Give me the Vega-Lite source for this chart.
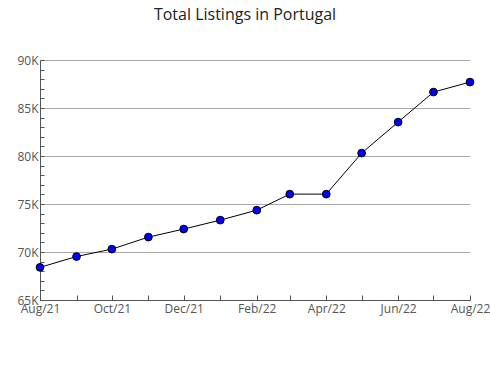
{
  "$schema": "https://vega.github.io/schema/vega-lite/v6.json",
  "width": 430,
  "height": 240,
  "autosize": {"type": "none"},
  "padding": {"left": 40, "top": 60, "right": 20, "bottom": 80},
  "background": "white",
  "title": {
    "text": "Total Listings in Portugal",
    "font": "Open Sans",
    "fontSize": 16,
    "fontWeight": "normal",
    "color": "#222222",
    "anchor": "middle",
    "dx": -10,
    "offset": 31
  },
  "config": {
    "view": {"stroke": null},
    "axis": {
      "labelFont": "Open Sans",
      "labelFontSize": 12,
      "labelColor": "#555555",
      "domainColor": "#555555",
      "tickColor": "#555555",
      "titleFont": "Open Sans"
    }
  },
  "data": {
    "values": [
      {"month": "2021-08-01", "listings": 68400},
      {"month": "2021-09-01", "listings": 69530},
      {"month": "2021-10-01", "listings": 70300},
      {"month": "2021-11-01", "listings": 71550},
      {"month": "2021-12-01", "listings": 72390},
      {"month": "2022-01-01", "listings": 73320},
      {"month": "2022-02-01", "listings": 74360},
      {"month": "2022-03-01", "listings": 76030},
      {"month": "2022-04-01", "listings": 76030},
      {"month": "2022-05-01", "listings": 80300},
      {"month": "2022-06-01", "listings": 83530},
      {"month": "2022-07-01", "listings": 86660},
      {"month": "2022-08-01", "listings": 87700}
    ]
  },
  "encoding": {
    "x": {
      "field": "month",
      "type": "temporal",
      "scale": {"type": "utc", "nice": false},
      "axis": {
        "title": null,
        "grid": false,
        "tickCount": {"interval": "month", "step": 1},
        "tickSize": -5,
        "labelPadding": 8,
        "labelFlush": false,
        "labelOverlap": false,
        "labelExpr": "utcmonth(datum.value) % 2 == 1 ? utcFormat(datum.value, '%b/%y') : ''"
      }
    },
    "y": {
      "field": "listings",
      "type": "quantitative",
      "scale": {"domain": [65000, 90000], "nice": false, "zero": false},
      "axis": {
        "title": null,
        "grid": true,
        "gridColor": "#aaaaaa",
        "gridOpacity": {"condition": {"test": "round(datum.value) % 5000 == 0 && datum.value > 65000", "value": 1}, "value": 0},
        "values": [65000, 66000, 67000, 68000, 69000, 70000, 71000, 72000, 73000, 74000, 75000, 76000, 77000, 78000, 79000, 80000, 81000, 82000, 83000, 84000, 85000, 86000, 87000, 88000, 89000, 90000],
        "tickSize": -4,
        "labelPadding": 6,
        "labelOverlap": false,
        "labelExpr": "round(datum.value) % 5000 == 0 ? format(datum.value / 1000, 'd') + 'K' : ''"
      }
    }
  },
  "layer": [
    {"mark": {"type": "line", "color": "black", "strokeWidth": 1}},
    {"mark": {"type": "point", "shape": "circle", "filled": true, "fill": "#0000ff", "stroke": "black", "strokeWidth": 1, "size": 60, "opacity": 1}}
  ]
}
